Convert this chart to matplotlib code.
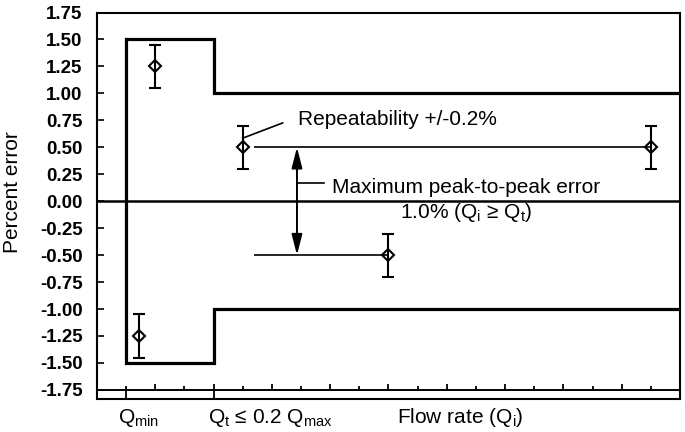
import matplotlib
matplotlib.use("Agg")
import matplotlib.pyplot as plt
import numpy as np

plt.rcParams["font.family"] = ["Liberation Sans", "DejaVu Sans"]
plt.rcParams["mathtext.fontset"] = "custom"
plt.rcParams["mathtext.rm"] = "Liberation Sans"
plt.rcParams["mathtext.it"] = "Liberation Sans:italic"
plt.rcParams["mathtext.bf"] = "Liberation Sans:bold"
plt.rcParams["mathtext.default"] = "regular"

# flow rate in tick units (Qmin = 1, Qt = 4), percent error, repeatability
flow = [2, 5, 10, 19, 1.43]
err = [1.25, 0.5, -0.5, 0.5, -1.25]
rep = [0.2, 0.2, 0.2, 0.2, 0.2]

# accuracy envelope
limit_x = [20, 4, 4, 1, 1, 4, 4, 20]
limit_y = [1.0, 1.0, 1.5, 1.5, -1.5, -1.5, -1.0, -1.0]

yticks = np.arange(-1.75, 1.76, 0.25)
xticks = np.arange(1, 20)
q_min, q_t = 1, 4

fig = plt.figure(figsize=(6.85, 4.32), dpi=100)
ax = fig.add_axes([0.1416, 0.0775, 0.8511, 0.8935])
ax.set_xlim(0, 20)
ax.set_ylim(-1.83, 1.75)

for s in ax.spines.values():
    s.set_linewidth(1.5)

ax.set_yticks(yticks)
ax.set_yticklabels([f"{v:.2f}" for v in yticks], fontweight="bold")
ax.tick_params(axis="y", direction="in", length=5, width=1.2, pad=10.5, labelsize=13.5)
ax.set_xticks([])

# strip at the bottom with the flow-rate ticks
ax.axhline(-1.75, color="black", lw=1.4)
for t in xticks:
    top = -1.75 + (0.056 if t % 2 == 0 else 0.037)
    bot = -1.83 if t in (q_min, q_t) else -1.75
    ax.vlines(t, bot, top, color="black", lw=1.3)

ax.axhline(0, color="black", lw=1.8)
ax.plot(limit_x, limit_y, color="black", lw=2.3, solid_joinstyle="miter")

# peak-to-peak reference lines
ax.hlines(err[3], 5.4, flow[3], color="black", lw=1.2)
ax.hlines(err[2], 5.4, flow[2], color="black", lw=1.2)
ax.annotate("", xy=(6.86, err[3]), xytext=(6.86, err[2]),
            arrowprops=dict(arrowstyle="<|-|>,head_length=1.25,head_width=0.32",
                            color="black", lw=1.4, shrinkA=0, shrinkB=0))
ax.plot([6.86, 7.8], [0.165, 0.165], color="black", lw=1.2)
ax.text(8.05, 0.075, "Maximum peak-to-peak error", fontsize=15, va="baseline")
ax.text(12.65, -0.155, "1.0% (Q$_{i}$ ≥ Q$_{t}$)", fontsize=15, va="baseline", ha="center")

ax.plot([5.0, 6.37], [0.585, 0.726], color="black", lw=1.2)
ax.text(6.88, 0.706, "Repeatability +/-0.2%", fontsize=15, va="baseline")

ax.errorbar(flow, err, yerr=rep, fmt="none", ecolor="black", elinewidth=1.5,
            capsize=4, capthick=1.5)
ax.plot(flow, err, "D", ms=6.5, mfc="none", mec="black", mew=1.5)

xt = ax.get_xaxis_transform()
ax.text(1.41, -0.0635, "Q$_{min}$", transform=xt, fontsize=15, ha="center", va="baseline")
ax.text(3.8, -0.0635, "Q$_{t}$ ≤ 0.2 Q$_{max}$", transform=xt, fontsize=15, ha="left", va="baseline")
ax.text(12.47, -0.0635, "Flow rate (Q$_{i}$)", transform=xt, fontsize=15, ha="center", va="baseline")

fig.text(12.5 / 685, 1 - 192 / 432, "Percent error", rotation=90, fontsize=15,
         ha="center", va="center")

fig.savefig("out.png", dpi=100)
